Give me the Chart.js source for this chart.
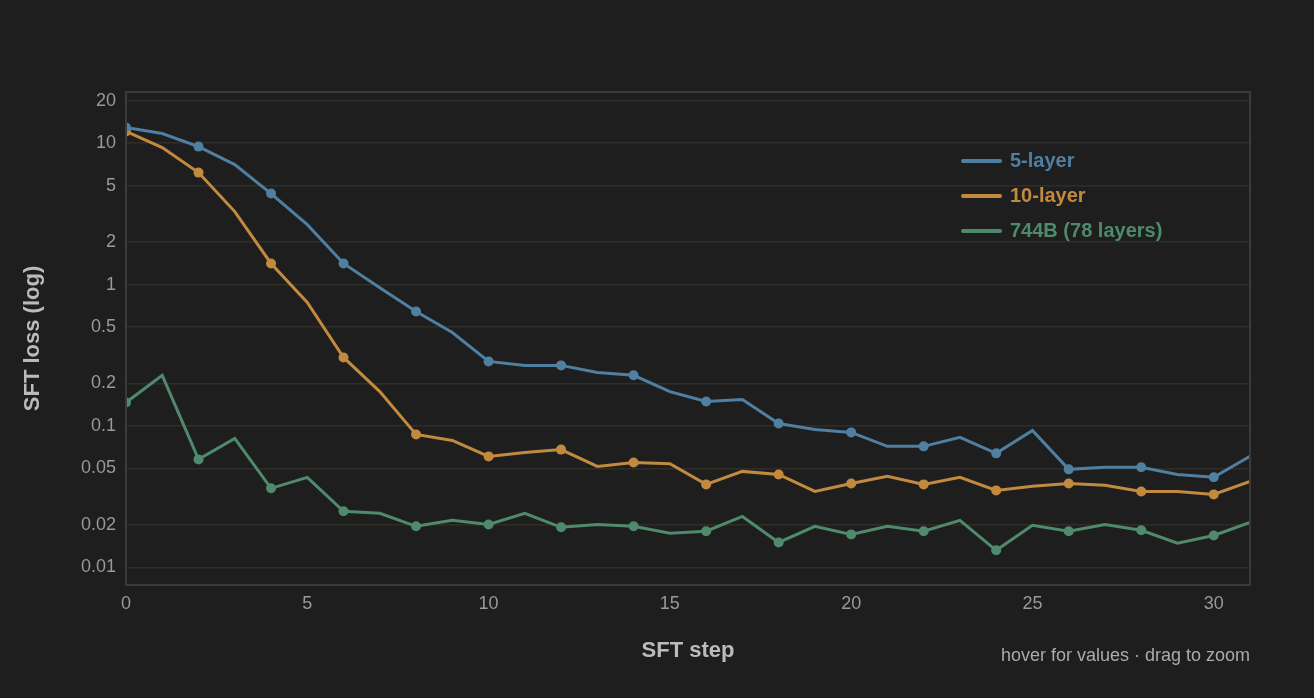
<!DOCTYPE html>
<html><head><meta charset="utf-8">
<script src="https://cdn.jsdelivr.net/npm/chart.js@4"></script>
<style>
html,body{margin:0;padding:0;background:#1e1e1e;overflow:hidden}
#wrap{position:relative;width:1314px;height:698px}
#hint{position:absolute;right:64px;top:645px;color:#aaa;font:18px "Liberation Sans",Arial,sans-serif}
</style></head><body>
<div id="wrap"><canvas id="c" width="1314" height="698"></canvas><div id="hint">hover for values · drag to zoom</div></div>
<script>
const steps = Array.from({length:32},(_, i)=>i);
const loss5 = [12.9,11.7,9.45,7.05,4.40,2.65,1.41,0.95,0.644,0.458,0.286,0.268,0.268,0.239,0.228,0.175,0.149,0.154,0.104,0.0945,0.090,0.0717,0.0717,0.083,0.064,0.093,0.0493,0.051,0.051,0.0454,0.0433,0.0609];
const loss10 = [12.1,9.3,6.19,3.28,1.41,0.746,0.305,0.175,0.0871,0.079,0.0609,0.065,0.068,0.0517,0.0552,0.054,0.0386,0.0477,0.0454,0.0344,0.0392,0.044,0.0386,0.0433,0.035,0.0374,0.0392,0.038,0.0344,0.0344,0.0328,0.0405];
const loss744 = [0.1466,0.228,0.058,0.0816,0.0362,0.0433,0.0249,0.0241,0.0195,0.0215,0.0201,0.0241,0.0192,0.0201,0.0195,0.0174,0.018,0.0229,0.015,0.0195,0.0171,0.0195,0.018,0.0215,0.0132,0.0198,0.018,0.0201,0.0183,0.0148,0.0168,0.0208];
const yTicks = [0.01,0.02,0.05,0.1,0.2,0.5,1,2,5,10,20];
const xTicks = [0,5,10,15,20,25,30];
const labels = ['5-layer','10-layer','744B (78 layers)'];
const colors = ['#4f7fa1','#c18a3f','#4f8a6d'];
const FONT = '"Liberation Sans", Arial, sans-serif';
function ds(lbl,data,col){return {label:lbl,data:steps.map((s,i)=>({x:s,y:data[i]})),borderColor:col,backgroundColor:col,borderWidth:3,
 pointRadius:steps.map(s=>s%2===0?5:0),pointBorderWidth:0,tension:0};}
const legendPlugin={id:'lg',afterDraw(ch){const c=ch.ctx;c.save();c.font='bold 20px '+FONT;c.textBaseline='middle';
 ch.data.datasets.forEach((d,i)=>{const y=161+i*35;c.strokeStyle=d.borderColor;c.lineWidth=4;c.lineCap='round';c.beginPath();c.moveTo(963,y);c.lineTo(1000,y);c.stroke();c.fillStyle=d.borderColor;c.fillText(d.label,1010,y);});c.restore();}};
new Chart(document.getElementById('c'),{type:'line',
 data:{datasets:[ds(labels[0],loss5,colors[0]),ds(labels[1],loss10,colors[1]),ds(labels[2],loss744,colors[2])]},
 options:{responsive:false,animation:false,layout:{padding:{top:92,right:64,left:16,bottom:30}},
 plugins:{legend:{display:false},tooltip:{enabled:false}},
 scales:{
  x:{type:'linear',min:0,max:31,afterFit(s){s.height=83;},
   afterBuildTicks(s){s.ticks=xTicks.map(v=>({value:v}));},
   ticks:{color:'#999',font:{size:18,family:FONT},padding:8},
   grid:{display:false,drawTicks:false},border:{color:'#3a3a3a',width:2},
   title:{display:true,text:'SFT step',color:'#bbb',font:{size:22,weight:'bold',family:FONT},padding:{top:10}}},
  y:{type:'logarithmic',min:0.0075,max:23,afterFit(s){s.width=110;},
   afterBuildTicks(s){s.ticks=yTicks.map(v=>({value:v}));},
   ticks:{color:'#999',font:{size:18,family:FONT},padding:10,callback:v=>String(v)},
   grid:{color:'#2e2e26',lineWidth:1.5,drawTicks:false},border:{color:'#3a3a3a',width:2},
   title:{display:true,text:'SFT loss (log)',color:'#bbb',font:{size:22,weight:'bold',family:FONT},padding:{bottom:8}}}
 }},plugins:[legendPlugin,{id:'frame',afterDraw(ch){const a=ch.chartArea,c=ch.ctx;c.save();c.strokeStyle='#3a3a3a';c.lineWidth=2;c.strokeRect(a.left,a.top,a.right-a.left,a.bottom-a.top);c.restore();}}]});
</script></body></html>
